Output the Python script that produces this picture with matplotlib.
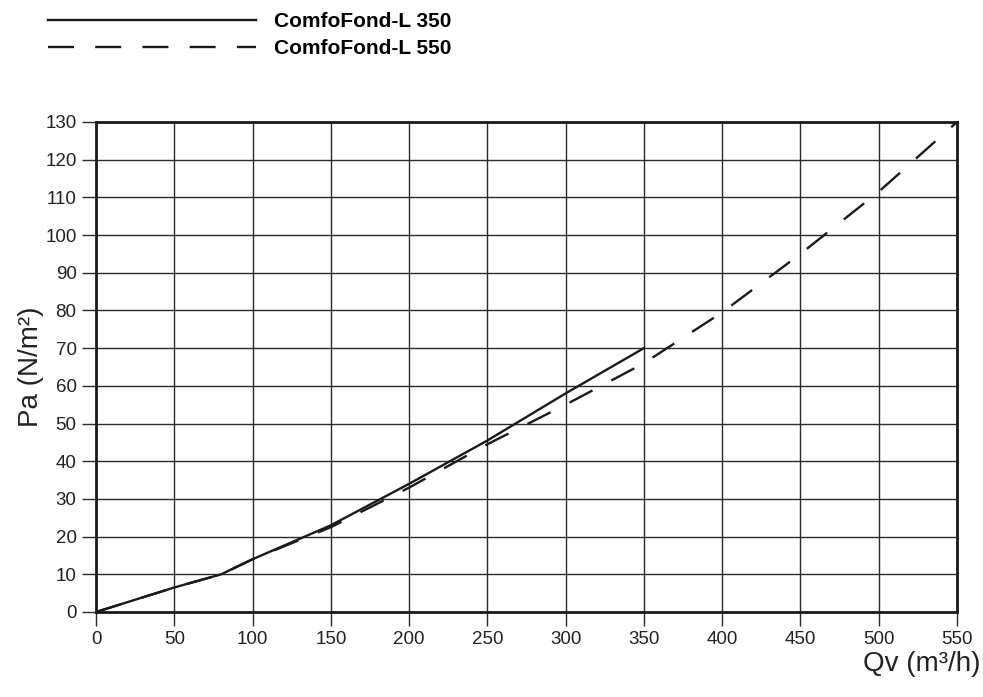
import matplotlib
matplotlib.use("Agg")
import matplotlib.pyplot as plt

# values
flow_350 = [0, 50, 80, 100, 150, 200, 250, 300, 350]
pa_350 = [0, 6.5, 10, 14, 23, 34, 45.5, 58, 70]

flow_550 = [0, 50, 80, 100, 150, 200, 250, 300, 350, 400, 450, 500, 550]
pa_550 = [0, 6.5, 10, 14, 22.5, 33, 44.5, 55, 66, 79.5, 95, 111.5, 130]

labels = ["ComfoFond-L 350", "ComfoFond-L 550"]
x_ticks = list(range(0, 551, 50))
y_ticks = list(range(0, 131, 10))

plt.rcParams['font.family'] = ['Liberation Sans', 'DejaVu Sans']

fig = plt.figure(figsize=(9.83, 6.97), dpi=100)
ax = fig.add_axes([96 / 983, 1 - 612 / 697, 861 / 983, 490 / 697])

ink = "#1a1a1a"
ax.plot(flow_350, pa_350, color=ink, lw=1.7, label=labels[0])
ax.plot(flow_550, pa_550, color=ink, lw=1.7, dashes=(11, 9), label=labels[1])

ax.set_xlim(0, 550)
ax.set_ylim(0, 130)
ax.set_xticks(x_ticks)
ax.set_yticks(y_ticks)
ax.grid(True, color="#2a2a2a", lw=1.0)
ax.set_axisbelow(True)
for s in ax.spines.values():
        s.set_linewidth(2.0)
        s.set_color(ink)

ax.tick_params(direction="out", length=10, width=1.0, color="#2a2a2a", pad=4,
               labelsize=13.5, labelcolor="#222222")

ax.set_ylabel("Pa (N/m²)", fontsize=20, color="#222222")
ax.yaxis.set_label_coords(-0.06, 0.5)
ax.set_xlabel("Qv (m³/h)", fontsize=20, color="#222222", ha="right")
ax.xaxis.set_label_coords(1.027, -0.08)

ax.legend(loc="upper left", bbox_to_anchor=(48 / 983, 1 - 12 / 697),
          bbox_transform=fig.transFigure, frameon=False, handlelength=10.0,
          handletextpad=0.85, labelspacing=0.4, borderpad=0, borderaxespad=0,
          prop={"weight": "bold", "size": 15})

fig.savefig("out.png", dpi=100)
